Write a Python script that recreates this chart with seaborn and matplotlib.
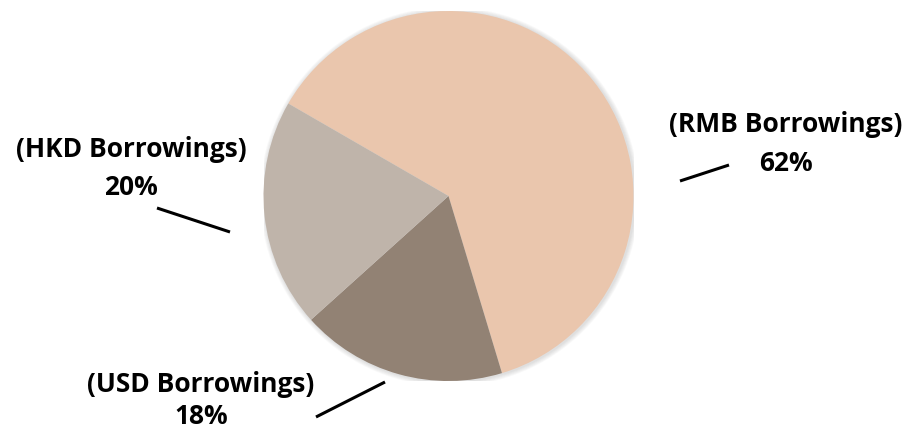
import matplotlib
matplotlib.use("Agg")
import matplotlib.pyplot as plt
import seaborn as sns
from matplotlib.patches import Circle

# Datos del gráfico
etiquetas = ["(RMB Borrowings)", "(USD Borrowings)", "(HKD Borrowings)"]
porcentajes = [62, 18, 20]
colores = ["#EAC6AD", "#928274", "#BFB4AA"]

sns.set_theme(style="white")
plt.rcParams['font.family'] = ['Open Sans', 'DejaVu Sans']

W, H = 913, 431
fig = plt.figure(figsize=(W / 100, H / 100), dpi=100)
fig.patch.set_facecolor("white")

# centro y radio del pastel en pixeles
cx, cy, r = 448.5, 197, 185
ax = fig.add_axes([(cx - r) / W, (H - cy - r) / H, 2 * r / W, 2 * r / H])


def px(x, y):
    # pixeles de la imagen -> coordenadas de datos del eje
    return (x - cx) / r, (cy - y) / r


# sombra suave alrededor del pastel
for k in range(1, 6):
    ax.add_patch(Circle((0.006, -0.004), 1 + k * 0.005, color="gray",
                        alpha=0.05, lw=0, zorder=0))

ax.pie(porcentajes, colors=colores, startangle=150, counterclock=False,
       radius=1, wedgeprops=dict(linewidth=0), frame=True)
ax.set_xlim(-1, 1)
ax.set_ylim(-1, 1)
ax.set_aspect("equal")
ax.axis("off")

# etiquetas (línea 1, línea 2) y líneas guía
pos_texto = {
    "(RMB Borrowings)": ((786, 132), (786, 171)),
    "(USD Borrowings)": ((201, 392), (201, 424)),
    "(HKD Borrowings)": ((131, 157), (131, 195)),
}
guias = {
    "(RMB Borrowings)": ((680, 182), (729, 166)),
    "(USD Borrowings)": ((316, 418), (385, 383)),
    "(HKD Borrowings)": ((157, 209), (230, 233)),
}

for etiqueta, pct in zip(etiquetas, porcentajes):
    (x1, y1), (x2, y2) = pos_texto[etiqueta]
    ax.text(*px(x1, y1), etiqueta, ha="center", va="baseline",
            fontsize=19, fontweight="bold", color="black", clip_on=False)
    ax.text(*px(x2, y2), f"{pct}%", ha="center", va="baseline",
            fontsize=19, fontweight="bold", color="black", clip_on=False)
    (a, b), (c, d) = guias[etiqueta]
    p1, p2 = px(a, b), px(c, d)
    ax.plot([p1[0], p2[0]], [p1[1], p2[1]], color="black", lw=2.2,
            solid_capstyle="butt", clip_on=False)

plt.savefig("out.png", dpi=100)
plt.close()
